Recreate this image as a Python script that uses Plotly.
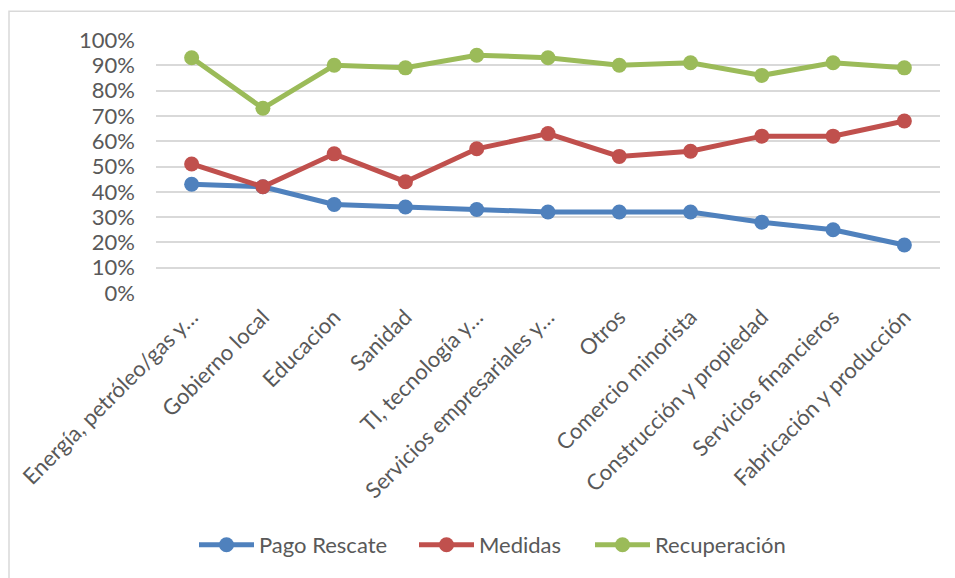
import plotly.graph_objects as go

categories = [
    "Energía, petróleo/gas y…",
    "Gobierno local",
    "Educacion",
    "Sanidad",
    "TI, tecnología y…",
    "Servicios empresariales y…",
    "Otros",
    "Comercio minorista",
    "Construcción y propiedad",
    "Servicios financieros",
    "Fabricación y producción",
]
pago_rescate = [0.43, 0.42, 0.35, 0.34, 0.33, 0.32, 0.32, 0.32, 0.28, 0.25, 0.19]
medidas = [0.51, 0.42, 0.55, 0.44, 0.57, 0.63, 0.54, 0.56, 0.62, 0.62, 0.68]
recuperacion = [0.93, 0.73, 0.90, 0.89, 0.94, 0.93, 0.90, 0.91, 0.86, 0.91, 0.89]
y_ticks = [0, 0.1, 0.2, 0.3, 0.4, 0.5, 0.6, 0.7, 0.8, 0.9, 1.0]

series = [
    ("Pago Rescate", pago_rescate, "#4F81BD", "legend"),
    ("Medidas", medidas, "#C0504D", "legend2"),
    ("Recuperación", recuperacion, "#9BBB59", "legend3"),
]

W, H = 955, 578
ml, mr, mt, mb = 156, 15, 40, 282
pw, ph = W - ml - mr, H - mt - mb

def px_x(p):
    return (p - ml) / pw

def px_y(p):
    return (H - mb - p) / ph

fig = go.Figure()
for name, vals, color, leg in series:
    fig.add_trace(go.Scatter(
        x=categories, y=vals, name=name, mode="lines+markers",
        line=dict(color=color, width=5),
        marker=dict(color=color, size=15),
        legend=leg,
    ))

font_family = "Lato, 'Open Sans', sans-serif"
fs = 22
legend_style = dict(
    orientation="h", xanchor="left", yanchor="middle", y=px_y(551),
    font=dict(size=fs, color="#595959"), itemwidth=55,
    bgcolor="rgba(0,0,0,0)",
)
fig.update_layout(
    width=W, height=H,
    margin=dict(l=ml, r=mr, t=mt, b=mb),
    paper_bgcolor="white", plot_bgcolor="white",
    font=dict(family=font_family, color="#595959", size=fs),
    showlegend=True,
    legend=dict(x=px_x(194), **legend_style),
    legend2=dict(x=px_x(414), **legend_style),
    legend3=dict(x=px_x(590), **legend_style),
    xaxis=dict(
        type="category", tickangle=-45, showgrid=False, showline=False,
        zeroline=False, ticks="", tickfont=dict(size=fs, color="#595959"),
        range=[-0.5, len(categories) - 0.5], ticklabelstandoff=6,
    ),
    yaxis=dict(
        range=[0, 1], tickvals=y_ticks, tickformat=".0%",
        showgrid=True, gridcolor="#D9D9D9", gridwidth=1.5,
        zeroline=False, showline=False, ticks="",
        ticklabelstandoff=20,
        tickfont=dict(size=fs, color="#595959"),
    ),
    shapes=[dict(
        type="rect", xref="paper", yref="paper",
        x0=px_x(9), x1=px_x(970), y0=px_y(600), y1=px_y(11),
        line=dict(color="#D9D9D9", width=1.5), fillcolor="rgba(0,0,0,0)",
        layer="below",
    )],
)

fig.write_html("out.html")
